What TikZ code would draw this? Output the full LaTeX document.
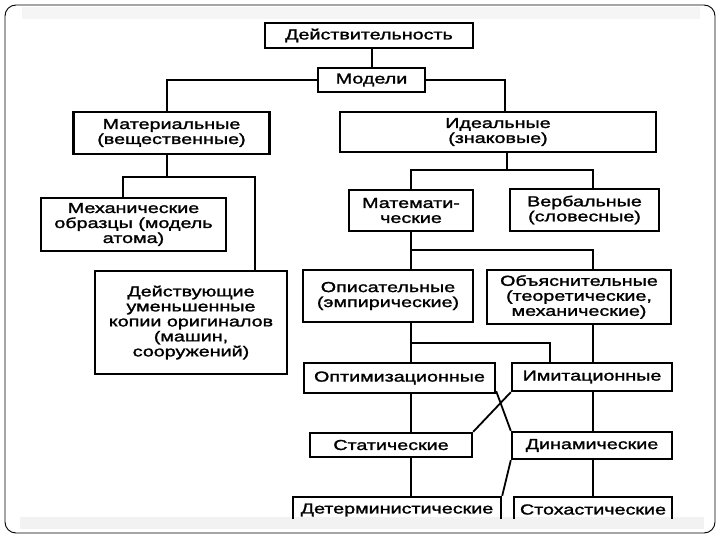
\documentclass[tikz,border=0pt]{standalone}
\usepackage{fontspec}
\setmainfont{Liberation Sans}[FakeStretch=1.36,FakeBold=1.6]
\usetikzlibrary{calc}
\tikzset{
  blok/.style={draw,line width=2.4pt,inner sep=0pt,align=center,
    font=\fontsize{14.5}{15}\selectfont},
  svyaz/.style={line width=2pt},
  kross/.style={line width=1.8pt}
}

\begin{document}
\begin{tikzpicture}[x=1pt,y=-1pt]
\useasboundingbox (0,0) rectangle (720,540);
% рамка слайда
\fill[gray!8] (22,7) rectangle (700,19);
\fill[gray!10] (20,517) rectangle (704,529);
\draw[line width=0.9pt,rounded corners=11pt] (5,5) rectangle (715,533);
% блоки
\node[blok,minimum width=208,minimum height=25] (deistv) at (369,35.5) {Действительность};
\node[blok,minimum width=107,minimum height=24] (modeli) at (371.5,80) {Модели};
\node[blok,minimum width=196,minimum height=42] (mater) at (171.5,133) {Материальные\\(вещественные)};
\node[blok,minimum width=316,minimum height=40] (ideal) at (498,132) {Идеальные\\(знаковые)};
\node[blok,minimum width=185,minimum height=53] (mekh) at (133.5,224.5) {Механические\\образцы (модель\\атома)};
\node[blok,minimum width=192,minimum height=103] (kopii) at (191,322.5) {Действующие\\уменьшенные\\копии оригиналов\\(машин,\\сооружений)};
\node[blok,minimum width=124,minimum height=41] (matem) at (411,210.5) {Математи-\\ческие};
\node[blok,minimum width=149,minimum height=42] (verb) at (584.5,210) {Вербальные\\(словесные)};
\node[blok,minimum width=170,minimum height=52] (opis) at (388,296) {Описательные\\(эмпирические)};
\node[blok,minimum width=184,minimum height=54] (obyasn) at (579,297) {Объяснительные\\(теоретические,\\механические)};
\node[blok,minimum width=191,minimum height=30] (optim) at (399.5,378) {Оптимизационные};
\node[blok,minimum width=160,minimum height=28] (imit) at (592,377) {Имитационные};
\node[blok,minimum width=162,minimum height=24] (stat) at (391,445) {Статические};
\node[blok,minimum width=160,minimum height=27] (dinam) at (592,445.5) {Динамические};
% нижние блоки срезаны краем слайда
\begin{scope}
\clip (280,480) rectangle (690,518);
\node[blok,minimum width=208,minimum height=26] (determ) at (397,510) {Детерминистические};
\node[blok,minimum width=158,minimum height=25] (stokh) at (593,509.5) {Стохастические};
\end{scope}
% опорные линии
\coordinate (xE) at (123,0);
\coordinate (xK) at (255,0);
\coordinate (xL) at (411,0);
\coordinate (xI) at (550,0);
\coordinate (xR) at (593,0);
\coordinate (yM) at (0,177);
\coordinate (yI) at (0,170);
\coordinate (yT) at (0,250);
\coordinate (yO) at (0,343);
% связи
\draw[svyaz] (deistv.south -| modeli.north) -- (modeli.north);
\draw[svyaz] (modeli.west) -| ([xshift=-5pt]mater.north);
\draw[svyaz] (modeli.east) -| ([xshift=7pt]ideal.north);
\draw[svyaz] ([xshift=-5pt]mater.south) -- ([xshift=-5pt]mater.south |- yM);
\draw[svyaz] (mekh.north -| xE) |- (xK |- yM) -- (kopii.north -| xK);
\draw[svyaz] ([xshift=9pt]ideal.south) -- ([xshift=9pt]ideal.south |- yI);
\draw[svyaz] (matem.north) |- (xR |- yI) -- (verb.north -| xR);
\draw[svyaz] (matem.south) -- (opis.north -| matem.south);
\draw[svyaz] (matem.south |- yT) -| (obyasn.north -| xR);
\draw[svyaz] (opis.south -| xL) -- (optim.north -| xL);
\draw[svyaz] (xL |- yO) -| (imit.north -| xI);
\draw[svyaz] (obyasn.south -| xR) -- (imit.north -| xR);
\draw[svyaz] (optim.south -| xL) -- (stat.north -| xL);
\draw[svyaz] (imit.south -| xR) -- (dinam.north -| xR);
\draw[svyaz] (stat.south -| xL) -- (determ.north -| xL);
\draw[svyaz] (dinam.south -| xR) -- (stokh.north -| xR);
% перекрёстные связи
\draw[kross] ([yshift=3pt]optim.south east) -- (dinam.north west);
\draw[kross] (imit.south west) -- (stat.north east);
\draw[kross] (dinam.south west) -- (determ.north east);
\end{tikzpicture}
\end{document}
